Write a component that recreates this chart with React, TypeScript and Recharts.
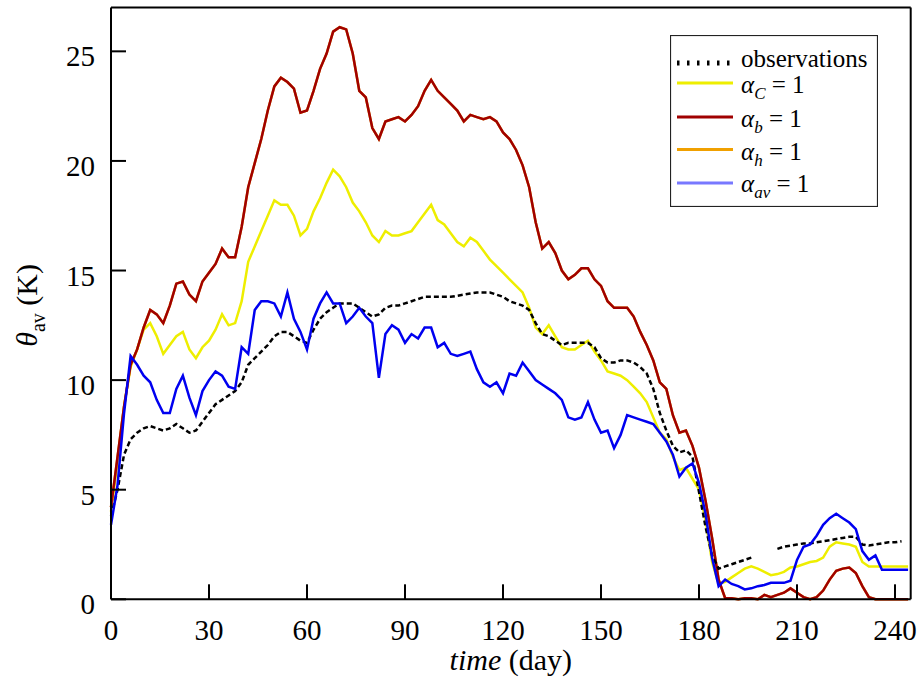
import React from 'react';
import { LineChart, Line, XAxis, YAxis, Legend, Label } from 'recharts';

// sampled every 2 days
const days = [
  0, 2, 4, 6, 8, 10, 12, 14, 16, 18,
  20, 22, 24, 26, 28, 30, 32, 34, 36, 38,
  40, 42, 44, 46, 48, 50, 52, 54, 56, 58,
  60, 62, 64, 66, 68, 70, 72, 74, 76, 78,
  80, 82, 84, 86, 88, 90, 92, 94, 96, 98,
  100, 102, 104, 106, 108, 110, 112, 114, 116, 118,
  120, 122, 124, 126, 128, 130, 132, 134, 136, 138,
  140, 142, 144, 146, 148, 150, 152, 154, 156, 158,
  160, 162, 164, 166, 168, 170, 172, 174, 176, 178,
  180, 182, 184, 186, 188, 190, 192, 194, 196, 198,
  200, 202, 204, 206, 208, 210, 212, 214, 216, 218,
  220, 222, 224, 226, 228, 230, 232, 234, 236, 238,
  240, 242, 244,
];

const observations = [
  3.8, 5.0, 6.6, 7.3, 7.6, 7.8, 7.9, 7.8, 7.7, 7.8,
  8.0, 7.8, 7.6, 7.7, 8.1, 8.5, 8.9, 9.1, 9.3, 9.5,
  9.9, 10.7, 11.0, 11.3, 11.6, 12.0, 12.2, 12.2, 12.0, 11.8,
  11.7, 12.3, 12.8, 13.1, 13.3, 13.5, 13.5, 13.5, 13.3, 13.1,
  12.9, 13.0, 13.3, 13.4, 13.4, 13.5, 13.6, 13.7, 13.8, 13.8,
  13.8, 13.8, 13.8, 13.85, 13.9, 13.95, 14.0, 14.0, 14.0, 13.9,
  13.8, 13.6, 13.5, 13.4, 13.2, 12.6, 12.1, 12.0, 11.8, 11.6,
  11.7, 11.7, 11.7, 11.7, 11.5, 11.0, 10.8, 10.8, 10.9, 10.9,
  10.8, 10.6, 10.3, 9.6, 8.5, 7.7, 7.0, 6.7, 6.8, 6.5,
  4.9, 3.3, 2.0, 1.4, 1.5, 1.6, 1.7, 1.8, 1.9, null,
  null, null, 2.3, 2.4, 2.45, 2.5, 2.55, 2.55, 2.6, 2.65,
  2.7, 2.75, 2.8, 2.85, 2.85, 2.5, 2.45, 2.5, 2.55, 2.6,
  2.6, 2.65, null,
];

const alphaC = [
  4.0, 6.3, 8.8, 10.6, 11.4, 12.3, 12.6, 12.0, 11.2, 11.6,
  12.0, 12.2, 11.4, 11.0, 11.5, 11.8, 12.3, 13.0, 12.5, 12.6,
  13.6, 15.4, 16.1, 16.8, 17.5, 18.2, 18.0, 18.0, 17.5, 16.6,
  16.9, 17.7, 18.3, 19.0, 19.6, 19.3, 18.8, 18.1, 17.7, 17.2,
  16.6, 16.3, 16.8, 16.6, 16.6, 16.7, 16.8, 17.2, 17.6, 18.0,
  17.3, 17.1, 16.7, 16.3, 16.1, 16.5, 16.3, 15.9, 15.5, 15.2,
  14.9, 14.6, 14.3, 14.0, 13.3, 12.4, 12.1, 12.5, 12.0, 11.5,
  11.4, 11.4, 11.6, 11.8, 11.3, 10.9, 10.4, 10.3, 10.2, 10.0,
  9.7, 9.4, 9.0, 8.3, 7.6, 7.3, 6.5, 5.9, 6.0, 5.5,
  5.0, 3.6, 1.7, 0.7, 0.8, 1.0, 1.2, 1.4, 1.5, 1.4,
  1.25, 1.1, 1.15, 1.25, 1.45, 1.5, 1.6, 1.7, 1.75, 1.9,
  2.4, 2.6, 2.55, 2.5, 2.4, 1.7, 1.5, 1.5, 1.5, 1.5,
  1.5, 1.5, 1.5,
];

const alphaB = [
  4.2, 6.5, 8.8, 10.7, 11.4, 12.4, 13.2, 13.0, 12.6, 13.4,
  14.4, 14.5, 13.9, 13.6, 14.5, 14.9, 15.3, 16.0, 15.6, 15.6,
  17.0, 18.8, 19.9, 21.0, 22.3, 23.4, 23.8, 23.6, 23.3, 22.2,
  22.3, 23.2, 24.2, 24.9, 25.9, 26.1, 26.0, 24.9, 23.2, 22.9,
  21.5, 21.0, 21.8, 21.9, 22.0, 21.8, 22.1, 22.5, 23.2, 23.7,
  23.2, 22.9, 22.6, 22.3, 21.8, 22.1, 22.0, 21.9, 22.0, 21.8,
  21.3, 21.0, 20.5, 19.8, 18.8, 17.2, 16.0, 16.3, 15.8, 15.0,
  14.6, 14.8, 15.1, 15.1, 14.6, 14.3, 13.6, 13.3, 13.3, 13.3,
  12.9, 12.2, 11.6, 10.9, 9.9, 9.6, 8.4, 7.6, 7.7, 7.0,
  6.0, 4.5, 2.8, 0.9, 0.05, 0.05, 0.0, 0.05, 0.05, 0.0,
  0.2, 0.1, 0.2, 0.3, 0.5, 0.3, 0.1, 0.0, 0.1, 0.4,
  0.9, 1.3, 1.4, 1.45, 1.2, 0.6, 0.1, 0.0, 0.0, 0.0,
  0.0, 0.0, 0.0,
];

// the alpha_h run lies under the alpha_b curve everywhere
const alphaH = [...alphaB];

const alphaAv = [
  3.4, 5.2, 8.5, 11.1, 10.7, 10.2, 9.9, 9.1, 8.5, 8.5,
  9.6, 10.2, 9.2, 8.4, 9.5, 10.0, 10.4, 10.2, 9.7, 9.6,
  11.5, 11.2, 13.2, 13.6, 13.6, 13.5, 12.9, 14.0, 12.8, 12.2,
  11.4, 12.8, 13.5, 14.0, 13.5, 13.5, 12.6, 12.9, 13.3, 12.9,
  12.6, 10.1, 12.1, 12.5, 12.3, 11.7, 12.1, 11.9, 12.4, 12.4,
  11.5, 11.7, 11.2, 11.1, 11.2, 11.3, 10.5, 9.9, 9.7, 9.9,
  9.4, 10.3, 10.2, 10.8, 10.4, 10.0, 9.8, 9.6, 9.4, 9.1,
  8.3, 8.2, 8.3, 9.0, 8.2, 7.6, 7.7, 6.9, 7.5, 8.4,
  8.3, 8.2, 8.1, 8.0, 7.6, 7.2, 6.6, 5.6, 6.0, 6.2,
  5.3, 3.9, 1.9, 0.6, 0.9, 0.7, 0.6, 0.45, 0.5, 0.6,
  0.65, 0.75, 0.75, 0.75, 0.85, 1.8, 2.4, 2.5, 2.9, 3.4,
  3.7, 3.9, 3.7, 3.5, 3.2, 2.2, 1.8, 2.0, 1.35, 1.35,
  1.35, 1.35, 1.35,
];

const xTicks = [0, 30, 60, 90, 120, 150, 180, 210, 240];
const topTicks = [50, 100, 150, 200];
const yTicks = [0, 5, 10, 15, 20, 25];

const FONT = 'Liberation Serif, DejaVu Serif, Times New Roman, serif';
const serif = { fontFamily: FONT };

const data = days.map((day, i) => ({
  day,
  obs: observations[i],
  alphaC: alphaC[i],
  alphaB: alphaB[i],
  alphaH: alphaH[i],
  alphaAv: alphaAv[i],
}));

const legendItems = [
  { key: 'obs', sub: '', color: '#000000', dotted: true, lineY: 28, textY: 32 },
  { key: 'alphaC', sub: 'C', color: '#eeee00', dotted: false, lineY: 48, textY: 58 },
  { key: 'alphaB', sub: 'b', color: '#a00000', dotted: false, lineY: 82, textY: 92 },
  { key: 'alphaH', sub: 'h', color: '#f0a000', dotted: false, lineY: 114.5, textY: 125 },
  { key: 'alphaAv', sub: 'av', color: '#7878ff', dotted: false, lineY: 148, textY: 157 },
];

const renderLegend = () => (
  <svg width={208} height={172} style={{ display: 'block' }}>
    <rect x={0.5} y={0.5} width={207} height={171} fill="#fff" stroke="#222" strokeWidth={1.2} />
    {legendItems.map((item) => (
      <g key={item.key}>
        {item.dotted ? (
          <line x1={7} x2={63} y1={item.lineY} y2={item.lineY} stroke={item.color} strokeWidth={5} strokeDasharray="2.5 7.5" />
        ) : (
          <line x1={7} x2={63} y1={item.lineY} y2={item.lineY} stroke={item.color} strokeWidth={3} />
        )}
        <text x={71} y={item.textY} fontSize={25} style={serif} fill="#000">
          {item.dotted ? (
            'observations'
          ) : (
            <>
              <tspan fontStyle="italic">α</tspan>
              <tspan fontStyle="italic" fontSize={17} dy={6}>{item.sub}</tspan>
              <tspan dy={-6}>{' = 1'}</tspan>
            </>
          )}
        </text>
      </g>
    ))}
  </svg>
);

const XTick = ({ x, y, payload }: any) => (
  <text x={x} y={y} textAnchor="middle" fontSize={29} style={serif} fill="#000">
    {payload.value}
  </text>
);

const YTick = ({ x, y, payload }: any) => (
  <text x={x} y={y + 15} textAnchor="end" fontSize={29} style={serif} fill="#000">
    {payload.value}
  </text>
);

const renderXTitle = (props: any) => {
  const vb = props.viewBox || { x: 111, y: 599, width: 800 };
  return (
    <text x={vb.x + vb.width / 2} y={vb.y + 71} textAnchor="middle" fontSize={30} style={serif} fill="#000">
      <tspan fontStyle="italic">time</tspan>
      <tspan>{' (day)'}</tspan>
    </text>
  );
};

const renderYTitle = (props: any) => {
  const vb = props.viewBox || { y: 7.5, height: 592 };
  const cx = 37;
  const cy = vb.y + vb.height / 2 + 2;
  return (
    <text x={cx} y={cy} transform={`rotate(-90 ${cx} ${cy})`} textAnchor="middle" fontSize={30} style={serif} fill="#000">
      <tspan fontStyle="italic">θ</tspan>
      <tspan fontSize={20} dy={8}>av</tspan>
      <tspan dy={-8}>{' (K)'}</tspan>
    </text>
  );
};

const axisLine = { stroke: '#000', strokeWidth: 2 };
const tickLine = { stroke: '#000', strokeWidth: 2 };

export default function App() {
  return (
    <div style={{ position: 'absolute', left: 0, top: 0, background: '#fff', fontFamily: FONT }}>
      <LineChart width={921} height={680} data={data} margin={{ top: 6.5, right: 9.3, bottom: 0, left: 0 }}>
        <XAxis
          dataKey="day"
          type="number"
          domain={[0, 244.8]}
          ticks={xTicks}
          height={80.7}
          tickSize={-15}
          tickMargin={56}
          axisLine={axisLine}
          tickLine={tickLine}
          tick={<XTick />}
        >
          <Label content={renderXTitle} />
        </XAxis>
        <XAxis
          xAxisId="top"
          orientation="top"
          dataKey="day"
          type="number"
          domain={[0, 244.8]}
          ticks={topTicks}
          height={1}
          tickSize={-15}
          axisLine={axisLine}
          tickLine={tickLine}
          tick={false}
        />
        <YAxis
          type="number"
          domain={[0, 27]}
          ticks={yTicks}
          width={111}
          tickSize={-15}
          tickMargin={31}
          axisLine={axisLine}
          tickLine={tickLine}
          tick={<YTick />}
        >
          <Label content={renderYTitle} />
        </YAxis>
        <YAxis
          yAxisId="right"
          orientation="right"
          type="number"
          domain={[0, 27]}
          ticks={yTicks}
          width={1}
          tickSize={-15}
          axisLine={axisLine}
          tickLine={tickLine}
          tick={false}
        />
        <Legend
          layout="horizontal"
          verticalAlign="middle"
          align="center"
          content={renderLegend}
          wrapperStyle={{ left: 670, top: 35, width: 208, height: 172 }}
        />
        <Line dataKey="alphaC" stroke="#eeee00" strokeWidth={2.5} dot={false} isAnimationActive={false} />
        <Line dataKey="alphaH" xAxisId="top" yAxisId="right" stroke="#f0a000" strokeWidth={2.5} dot={false} isAnimationActive={false} />
        <Line dataKey="alphaB" stroke="#a00000" strokeWidth={2.5} dot={false} isAnimationActive={false} />
        <Line dataKey="obs" stroke="#000" strokeWidth={2.5} strokeDasharray="5 3" dot={false} isAnimationActive={false} />
        <Line dataKey="alphaAv" stroke="#0000f0" strokeWidth={2.5} dot={false} isAnimationActive={false} />
      </LineChart>
    </div>
  );
}
